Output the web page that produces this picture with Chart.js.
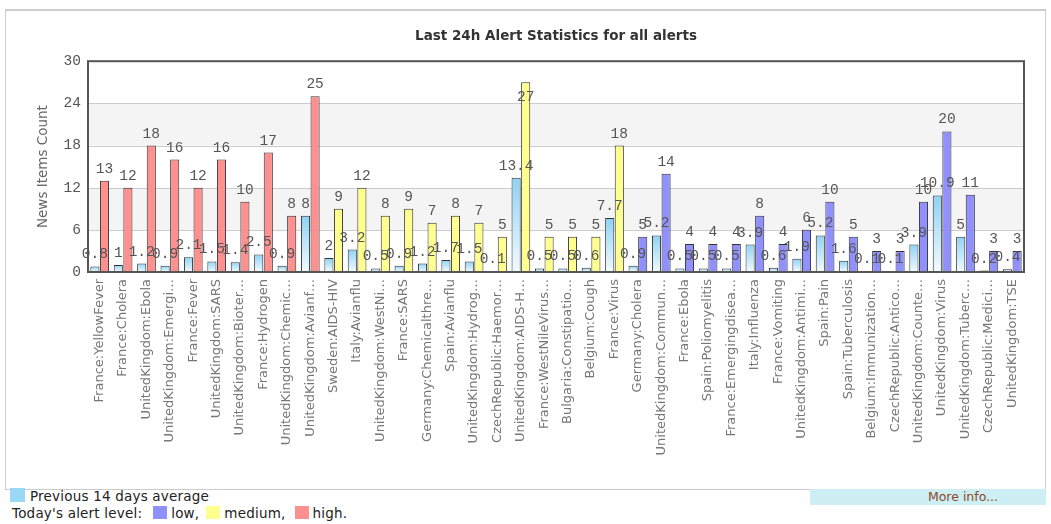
<!DOCTYPE html>
<html>
<head>
<meta charset="utf-8">
<script src="https://cdn.jsdelivr.net/npm/chart.js"></script>
<style>
  body { margin: 0; background: #fff; font-family: "DejaVu Sans", sans-serif; }
  #frame { position: absolute; left: 5px; top: 9px; width: 1039px; height: 478px; border: 1px solid #ccc; border-top: 2px solid #ccc; }
  #wrap { position: absolute; left: 0; top: 0; width: 1051px; height: 488px; }
  .legend { position: absolute; font-size: 13.5px; letter-spacing: 0.2px; color: #222; white-space: nowrap; }
  .sw { display: inline-block; width: 14px; height: 13px; vertical-align: -1px; margin: 0 4px 0 9px; }
  #more { position: absolute; left: 810px; top: 489px; width: 236px; height: 16px; background: #cdeef3;
          color: #8a4a2a; font-size: 12.5px; text-align: center; line-height: 16px; padding-left: 70px; box-sizing: border-box; }
</style>
</head>
<body>
<div id="frame"></div>
<div id="wrap"><canvas id="chart"></canvas></div>
<div class="legend" style="left:10px; top:488px;"><span class="sw" style="background:#9ad8f5; width:15px; height:14px; margin:0 5px 0 0;"></span>Previous 14 days average</div>
<div class="legend" style="left:12px; top:505px;">Today's alert level:<span class="sw" style="background:#9090ff; margin-left:11px;"></span>low,<span class="sw" style="background:#ffff90; margin-left:7px;"></span>medium,<span class="sw" style="background:#ff9090; margin-left:9px;"></span>high.</div>
<div id="more">More info...</div>
<script>
const categories = [
  "France:YellowFever", "France:Cholera", "UnitedKingdom:Ebola", "UnitedKingdom:Emergi\u2026",
  "France:Fever", "UnitedKingdom:SARS", "UnitedKingdom:Bioter\u2026", "France:Hydrogen",
  "UnitedKingdom:Chemic\u2026", "UnitedKingdom:Avianf\u2026", "Sweden:AIDS-HIV", "Italy:Avianflu",
  "UnitedKingdom:WestNi\u2026", "France:SARS", "Germany:Chemicalthre\u2026", "Spain:Avianflu",
  "UnitedKingdom:Hydrog\u2026", "CzechRepublic:Haemor\u2026", "UnitedKingdom:AIDS-H\u2026", "France:WestNileVirus\u2026",
  "Bulgaria:Constipatio\u2026", "Belgium:Cough", "France:Virus", "Germany:Cholera",
  "UnitedKingdom:Commun\u2026", "France:Ebola", "Spain:Poliomyelitis", "France:Emergingdisea\u2026",
  "Italy:Influenza", "France:Vomiting", "UnitedKingdom:Antimi\u2026", "Spain:Pain",
  "Spain:Tuberculosis", "Belgium:Immunization\u2026", "CzechRepublic:Antico\u2026", "UnitedKingdom:Counte\u2026",
  "UnitedKingdom:Virus", "UnitedKingdom:Tuberc\u2026", "CzechRepublic:Medici\u2026", "UnitedKingdom:TSE"
];
const avgValues = [
  0.8, 1, 1.2, 0.9, 2.1, 1.5, 1.4, 2.5, 0.9, 8,
  2, 3.2, 0.5, 0.9, 1.2, 1.7, 1.5, 0.1, 13.4, 0.5,
  0.5, 0.6, 7.7, 0.9, 5.2, 0.5, 0.5, 0.5, 3.9, 0.6,
  1.9, 5.2, 1.6, 0.1, 0.1, 3.9, 10.9, 5, 0.2, 0.4
];
const todayValues = [
  13, 12, 18, 16, 12, 16, 10, 17, 8, 25,
  9, 12, 8, 9, 7, 8, 7, 5, 27, 5,
  5, 5, 18, 5, 14, 4, 4, 4, 8, 4,
  6, 10, 5, 3, 3, 10, 20, 11, 3, 3
];
const alertLevels = [
  "high", "high", "high", "high", "high", "high", "high", "high", "high", "high",
  "medium", "medium", "medium", "medium", "medium", "medium", "medium", "medium", "medium", "medium",
  "medium", "medium", "medium", "low", "low", "low", "low", "low", "low", "low",
  "low", "low", "low", "low", "low", "low", "low", "low", "low", "low"
];
const yTicks = [0, 6, 12, 18, 24, 30];

const levelColors = { low: "#9090ff", medium: "#ffff90", high: "#ff9090" };

const canvas = document.getElementById("chart");
canvas.width = 1051;
canvas.height = 488;

// light gray bands behind the bars (6-12 and 18-24) and the plot border
const bandsPlugin = {
  id: "bands",
  beforeDatasetsDraw(chart) {
    const { ctx, chartArea, scales } = chart;
    ctx.save();
    ctx.fillStyle = "#f4f4f4";
    [[6, 12], [18, 24]].forEach(([a, b]) => {
      const y1 = scales.y.getPixelForValue(b);
      const y2 = scales.y.getPixelForValue(a);
      ctx.fillRect(chartArea.left, y1, chartArea.right - chartArea.left, y2 - y1);
    });
    ctx.strokeStyle = "#cccccc";
    ctx.lineWidth = 1;
    [6, 12, 18, 24].forEach(v => {
      const y = Math.round(scales.y.getPixelForValue(v)) + 0.5;
      ctx.beginPath();
      ctx.moveTo(chartArea.left, y);
      ctx.lineTo(chartArea.right, y);
      ctx.stroke();
    });
    ctx.restore();
  },
  afterDatasetsDraw(chart) {
    const { ctx, chartArea } = chart;
    ctx.save();
    ctx.strokeStyle = "#555";
    ctx.lineWidth = 2;
    ctx.strokeRect(chartArea.left, chartArea.top, chartArea.right - chartArea.left, chartArea.bottom - chartArea.top);
    ctx.restore();
  }
};

// value labels above each bar (pushed inside the bar when there is no room above)
const valueLabels = {
  id: "valueLabels",
  afterDraw(chart) {
    const { ctx, chartArea } = chart;
    ctx.save();
    ctx.font = "14.5px 'Liberation Mono', monospace";
    ctx.fillStyle = "#555";
    ctx.textAlign = "center";
    ctx.textBaseline = "alphabetic";
    chart.data.datasets.forEach((ds, i) => {
      chart.getDatasetMeta(i).data.forEach((bar, j) => {
        let y = bar.y - 8;
        if (bar.y - chartArea.top < 30) y = bar.y + 19;
        ctx.fillText(String(ds.data[j]), bar.x, y);
      });
    });
    ctx.restore();
  }
};

// light blue at the top of each bar fading to white at the base
function avgGradient(context) {
  const chart = context.chart;
  const area = chart.chartArea;
  if (!area || context.type !== "data" || !chart.scales.y) return "#9ad8f5";
  const top = chart.scales.y.getPixelForValue(context.raw);
  const g = chart.ctx.createLinearGradient(0, top, 0, area.bottom);
  g.addColorStop(0, "#8ed2f4");
  g.addColorStop(1, "#f4fbff");
  return g;
}

new Chart(canvas, {
  type: "bar",
  data: {
    labels: categories,
    datasets: [
      {
        label: "Previous 14 days average",
        data: avgValues,
        backgroundColor: avgGradient,
        borderColor: "#333",
        borderWidth: 1,
        categoryPercentage: 0.82,
        barPercentage: 0.95
      },
      {
        label: "Today's alert level",
        data: todayValues,
        backgroundColor: alertLevels.map(l => levelColors[l]),
        borderColor: "#333",
        borderWidth: 1,
        categoryPercentage: 0.82,
        barPercentage: 0.95
      }
    ]
  },
  options: {
    responsive: false,
    animation: false,
    devicePixelRatio: 1,
    layout: { padding: { left: 5, right: 27, top: 0, bottom: 0 } },
    plugins: {
      legend: { display: false },
      tooltip: { enabled: false },
      title: {
        display: true,
        fullSize: false,
        text: "Last 24h Alert Statistics for all alerts",
        color: "#333",
        font: { family: "'DejaVu Sans', sans-serif", size: 13.5, weight: "bold", lineHeight: 1.2 },
        padding: { top: 28, bottom: 17 }
      }
    },
    scales: {
      x: {
        grid: { display: false, drawTicks: false },
        border: { display: false },
        afterFit: s => { s.height = 216; },
        ticks: {
          autoSkip: false,
          minRotation: 90,
          maxRotation: 90,
          padding: 7,
          color: "#777",
          font: { family: "'DejaVu Sans', sans-serif", size: 13 }
        }
      },
      y: {
        min: 0,
        max: 30,
        afterFit: s => { s.width = 83; },
        afterBuildTicks: s => { s.ticks = yTicks.map(v => ({ value: v })); },
        grid: { display: false, drawTicks: false },
        border: { display: false },
        ticks: {
          padding: 7,
          color: "#555",
          font: { family: "'Liberation Mono', monospace", size: 14.5 }
        },
        title: {
          display: true,
          text: "News Items Count",
          color: "#666",
          padding: { top: 30, bottom: 0 },
          font: { family: "'DejaVu Sans', sans-serif", size: 13.5 }
        }
      }
    }
  },
  plugins: [bandsPlugin, valueLabels]
});
</script>
</body>
</html>
